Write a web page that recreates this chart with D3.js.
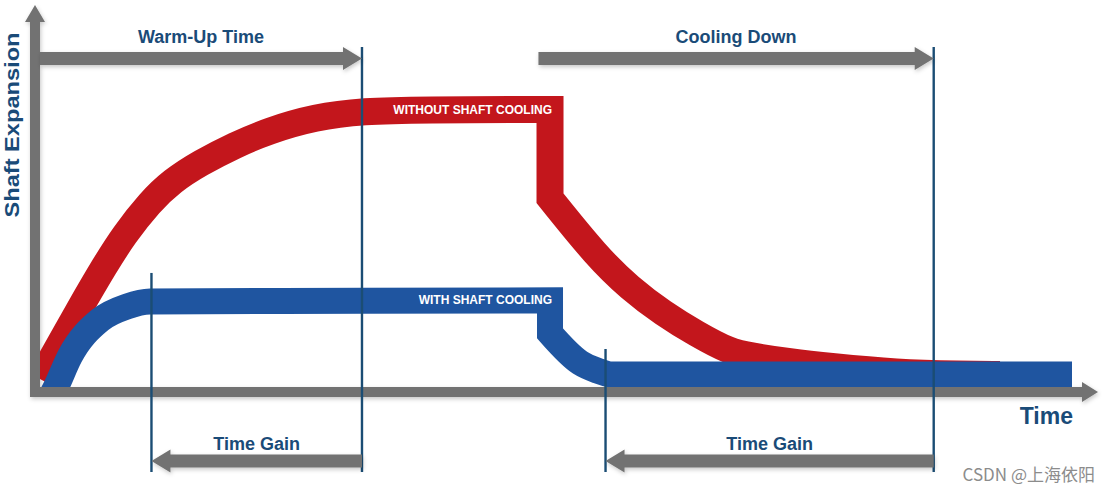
<!DOCTYPE html>
<html>
<head>
<meta charset="utf-8">
<script src="https://cdn.jsdelivr.net/npm/d3@7"></script>
<style>
  html, body { margin: 0; padding: 0; background: #ffffff; }
  svg { display: block; }
  text { font-family: "Liberation Sans", Arial, sans-serif; }
</style>
</head>
<body>
<svg id="chart" width="1110" height="493"></svg>
<script>
// ---------- data (time in arbitrary units 0-100, expansion in % of max) ----------
const timeRed      = [0, 3.97, 6.30, 8.14, 10.66, 12.79, 15.50, 18.90, 22.09, 26.65, 31.40, 36.82, 49.42,
                      49.42, 53.97, 57.17, 60.37, 63.66, 66.86, 68.80, 72.67, 76.55, 83.04, 89.15, 93.02];
const expansionRed = [2.88, 29.19, 43.96, 54.77, 66.67, 74.23, 80.72, 87.21, 92.25, 97.30, 99.46, 99.89, 100,
                      68.0, 46.96, 35.57, 26.56, 19.03, 12.68, 11.24, 9.01, 7.39, 5.12, 4.58, 4.50];

const timeBlue      = [1.16, 1.55, 2.91, 5.81, 8.43, 10.66, 31.30, 49.42, 49.42, 52.33, 53.97, 55.43, 100];
const expansionBlue = [-2.88, 0, 11.17, 24.14, 29.01, 30.81, 31.10, 31.24, 19.32, 8.79, 5.98, 4.50, 4.50];

const seriesLabels = ["WITHOUT SHAFT COOLING", "WITH SHAFT COOLING"];

// marker lines: time, top (expansion units)
const markerTimes = [10.8, 31.2, 54.8, 86.6];
const markerTops  = [41.1, 122.5, 13.7, 122.5];

// phase arrows: [from time, to time (arrow tip), label]
const topPhases    = [[0, 31.2, "Warm-Up Time"], [48.3, 86.6, "Cooling Down"]];
const bottomPhases = [[31.2, 10.8, "Time Gain"], [86.6, 54.8, "Time Gain"]];

const axisLabels = { x: "Time", y: "Shaft Expansion" };
const watermark = "CSDN @上海依阳";

// ---------- setup ----------
const svg = d3.select("#chart");
const x = d3.scaleLinear().domain([0, 100]).range([40, 1072]);
const y = d3.scaleLinear().domain([0, 100]).range([387, 109.5]);

const GRAY = "#727272", RED = "#c3161c", BLUE = "#1f55a0", NAVY = "#1a4b78";

const defs = svg.append("defs");
const f = defs.append("filter").attr("id", "shadow").attr("x", "-5%").attr("y", "-50%").attr("width", "110%").attr("height", "200%");
f.append("feDropShadow").attr("dx", 1).attr("dy", 2).attr("stdDeviation", 2).attr("flood-color", "#000").attr("flood-opacity", 0.22);
defs.append("clipPath").attr("id", "plot").append("rect")
  .attr("x", x(0)).attr("y", 0).attr("width", 1110 - x(0)).attr("height", y(0));

// ---------- axes (arrows) ----------
const axisG = svg.append("g").attr("filter", "url(#shadow)").attr("fill", GRAY);
const x0 = x(0), yBase = y(0);
axisG.append("polygon").attr("points", [
  [x0 - 10, yBase + 10], [x0 - 10, 22], [x0 - 15, 22], [x0 - 5, 5], [x0 + 5, 22], [x0, 22], [x0, yBase + 10]
].map(p => p.join(",")).join(" "));
axisG.append("polygon").attr("points", [
  [x0 - 10, yBase], [1082, yBase], [1082, yBase - 5], [1098, yBase + 5], [1082, yBase + 15], [1082, yBase + 10], [x0 - 10, yBase + 10]
].map(p => p.join(",")).join(" "));

// ---------- bands ----------
function bandPath(times, values, curve) {
  const pts = times.map((t, i) => [x(t), y(values[i])]);
  const line = d3.line().curve(curve);
  let d = "";
  let seg = [pts[0]];
  const flush = () => {
    if (seg.length > 1) {
      const s = line(seg);
      d += d === "" ? s : s.replace(/^M[-\d.,e]*/, "");
    } else if (d === "") {
      d = "M" + seg[0].join(",");
    }
  };
  for (let i = 1; i < pts.length; i++) {
    if (pts[i][0] === pts[i - 1][0]) {
      flush();
      d += "L" + pts[i].join(",");
      seg = [pts[i]];
    } else {
      seg.push(pts[i]);
    }
  }
  flush();
  return d;
}

const bands = svg.append("g").attr("clip-path", "url(#plot)");
bands.append("path").attr("d", bandPath(timeRed, expansionRed, d3.curveBasis))
  .attr("fill", "none").attr("stroke", RED).attr("stroke-width", 27)
  .attr("stroke-linejoin", "miter").attr("stroke-linecap", "butt");
bands.append("path").attr("d", bandPath(timeBlue, expansionBlue, d3.curveMonotoneX))
  .attr("fill", "none").attr("stroke", BLUE).attr("stroke-width", 26)
  .attr("stroke-linejoin", "miter").attr("stroke-linecap", "butt");

svg.append("text").text(seriesLabels[0])
  .attr("x", x(49.42) + 2).attr("y", y(100) + 4.5)
  .attr("text-anchor", "end").attr("fill", "#fff").attr("font-weight", 700).attr("font-size", 12);
svg.append("text").text(seriesLabels[1])
  .attr("x", x(49.42) + 2).attr("y", y(31.24) + 4)
  .attr("text-anchor", "end").attr("fill", "#fff").attr("font-weight", 700).attr("font-size", 12);

// ---------- marker lines ----------
svg.append("g").selectAll("line").data(markerTimes).join("line")
  .attr("x1", d => x(d)).attr("x2", d => x(d))
  .attr("y1", (d, i) => y(markerTops[i])).attr("y2", 472)
  .attr("stroke", "#1b4d74").attr("stroke-width", 2.4);

// ---------- phase arrows ----------
function hArrow(g, fromX, toX, yc) {
  const dir = toX > fromX ? 1 : -1;
  const base = toX - dir * 19;
  const pts = [
    [fromX, yc - 6.5], [base, yc - 6.5], [base, yc - 11.5], [toX, yc],
    [base, yc + 11.5], [base, yc + 6.5], [fromX, yc + 6.5]
  ];
  g.append("polygon").attr("points", pts.map(p => p.join(",")).join(" ")).attr("fill", GRAY);
}
const arrowG = svg.append("g").attr("filter", "url(#shadow)");
topPhases.forEach(p => hArrow(arrowG, x(p[0]), x(p[1]), 58.5));
bottomPhases.forEach(p => hArrow(arrowG, x(p[0]), x(p[1]), 461));

const titleStyle = sel => sel.attr("fill", NAVY).attr("font-weight", 700).attr("font-size", 18).attr("text-anchor", "middle");
topPhases.forEach(p => {
  const cx = p[0] === 0 ? 201 : (x(p[0]) + x(p[1])) / 2;
  svg.append("text").text(p[2]).attr("x", cx).attr("y", 43).call(titleStyle);
});
bottomPhases.forEach(p => {
  svg.append("text").text(p[2]).attr("x", (x(p[0]) + x(p[1])) / 2).attr("y", 450).call(titleStyle);
});

// ---------- axis titles ----------
svg.append("text").text(axisLabels.x)
  .attr("x", 1073).attr("y", 424).attr("text-anchor", "end")
  .attr("fill", NAVY).attr("font-weight", 700).attr("font-size", 23);
svg.append("text").text(axisLabels.y)
  .attr("transform", "translate(19,125) rotate(-90)").attr("text-anchor", "middle")
  .attr("fill", NAVY).attr("font-weight", 700).attr("font-size", 21)
  .attr("textLength", 185).attr("lengthAdjust", "spacingAndGlyphs");

// ---------- watermark ----------
svg.append("text").text(watermark)
  .attr("x", 1095).attr("y", 481).attr("text-anchor", "end")
  .attr("fill", "#8c8c8c").attr("font-size", 17)
  .style("font-family", "'Noto Sans CJK SC', 'Noto Sans', sans-serif");
</script>
</body>
</html>
